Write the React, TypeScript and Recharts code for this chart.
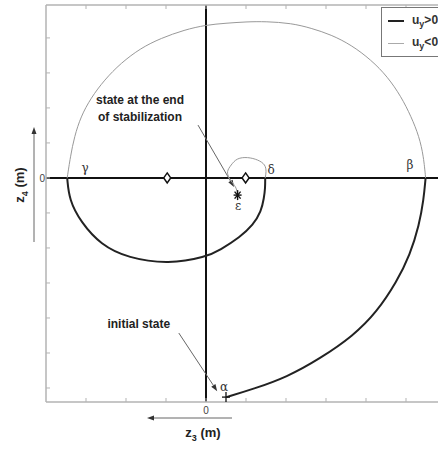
import { ComposedChart, Legend, Line, ReferenceDot, ReferenceLine, Scatter, XAxis, YAxis } from "recharts";

const xTicks = [-3, -2, -1, 0, 1, 2, 3, 4, 5];
const yTicks = [-6, -5, -4, -3, -2, -1, 0, 1, 2, 3, 4];

// u_y > 0 : from the initial state up to beta, then gamma down to delta
const arcAlphaBeta = [
	{ x: 0.51, y: -6.26 }, { x: 1.18, y: -6.03 }, { x: 2.02, y: -5.69 }, { x: 2.85, y: -5.16 },
	{ x: 3.68, y: -4.51 }, { x: 4.27, y: -3.83 }, { x: 4.77, y: -2.96 }, { x: 5.1, y: -2.2 },
	{ x: 5.33, y: -1.34 }, { x: 5.44, y: -0.63 }, { x: 5.49, y: 0 },
];
const arcGammaDelta = [
	{ x: -3.47, y: 0 }, { x: -3.42, y: -0.63 }, { x: -3.13, y: -1.26 }, { x: -2.63, y: -1.91 },
	{ x: -1.95, y: -2.29 }, { x: -0.93, y: -2.46 }, { x: 0, y: -2.26 }, { x: 0.35, y: -2.06 },
	{ x: 0.85, y: -1.69 }, { x: 1.18, y: -1.34 }, { x: 1.38, y: -0.96 }, { x: 1.45, y: -0.57 },
	{ x: 1.48, y: -0.29 }, { x: 1.48, y: 0 },
];

// u_y < 0 : beta over the top to gamma, then the small loop from delta to epsilon
const arcBetaGamma = [
	{ x: 5.49, y: 0 }, { x: 5.44, y: 0.61 }, { x: 5.33, y: 1.18 }, { x: 5.13, y: 1.75 },
	{ x: 4.88, y: 2.32 }, { x: 4.54, y: 2.89 }, { x: 4.13, y: 3.37 }, { x: 3.63, y: 3.8 },
	{ x: 3.13, y: 4.09 }, { x: 2.63, y: 4.28 }, { x: 2.13, y: 4.42 }, { x: 1.5, y: 4.47 },
	{ x: 1.0, y: 4.46 }, { x: 0.5, y: 4.42 }, { x: 0, y: 4.37 }, { x: -0.54, y: 4.23 },
	{ x: -1.13, y: 3.99 }, { x: -1.63, y: 3.71 }, { x: -2.13, y: 3.28 }, { x: -2.54, y: 2.8 },
	{ x: -2.88, y: 2.28 }, { x: -3.13, y: 1.75 }, { x: -3.29, y: 1.18 }, { x: -3.39, y: 0.61 },
	{ x: -3.47, y: 0 },
];
const loopDeltaEpsilon = [
	{ x: 1.48, y: 0 }, { x: 1.5, y: 0.18 }, { x: 1.46, y: 0.37 }, { x: 1.29, y: 0.51 },
	{ x: 1.04, y: 0.58 }, { x: 0.79, y: 0.54 }, { x: 0.63, y: 0.37 }, { x: 0.54, y: 0.18 },
	{ x: 0.58, y: 0 }, { x: 0.67, y: -0.15 }, { x: 0.75, y: -0.29 }, { x: 0.79, y: -0.46 },
];

const equilibria = [{ x: -0.97, y: 0 }, { x: 0.99, y: 0 }];
const initialState = [{ x: 0.5, y: -6.26 }];
const finalState = [{ x: 0.79, y: -0.49 }];

const greekLabels = [
	{ x: -3.02, y: 0.29, text: "γ" },
	{ x: 5.1, y: 0.37, text: "β" },
	{ x: 1.63, y: 0.23, text: "δ" },
	{ x: 0.8, y: -0.8, text: "ε" },
	{ x: 0.45, y: -5.97, text: "α" },
];

const notes = [
	{ x: -1.65, y: 2.23, text: "state at the end" },
	{ x: -1.65, y: 1.74, text: "of stabilization" },
	{ x: -1.68, y: -4.17, text: "initial state" },
];
const pointers = [
	[{ x: -0.2, y: 1.51 }, { x: 0.7, y: -0.26 }],
	[{ x: -0.68, y: -4.43 }, { x: 0.28, y: -6.09 }],
];

const frame = "#b3b3b3";

function Arrow({ x1, y1, x2, y2 }: any) {
	const a = Math.atan2(y2 - y1, x2 - x1);
	const bx = x2 - 7 * Math.cos(a);
	const by = y2 - 7 * Math.sin(a);
	const w = 2.5;
	const head = `${x2},${y2} ${bx - w * Math.sin(a)},${by + w * Math.cos(a)} ${bx + w * Math.sin(a)},${by - w * Math.cos(a)}`;
	return (
		<g>
			<line x1={x1} y1={y1} x2={bx} y2={by} stroke="#666" strokeWidth={1} />
			<polygon points={head} fill="#333" />
		</g>
	);
}

function BottomTick({ x, y, payload }: any) {
	return (
		<g>
			<line x1={x} y1={y} x2={x} y2={y - 4} stroke={frame} />
			{payload.value === 0 && (
				<text x={x} y={y + 12} textAnchor="middle" fontSize={10} fill="#444">0</text>
			)}
		</g>
	);
}

function TopTick({ x, y }: any) {
	return <line x1={x} y1={y} x2={x} y2={y + 4} stroke={frame} />;
}

function LeftTick({ x, y, payload }: any) {
	return (
		<g>
			<line x1={x} y1={y} x2={x + 4} y2={y} stroke={frame} />
			{payload.value === 0 && (
				<text x={x - 1} y={y + 4} textAnchor="end" fontSize={10} fill="#444">0</text>
			)}
		</g>
	);
}

function XTitle() {
	return (
		<g>
			<Arrow x1={232} y1={418} x2={147} y2={418} />
			<text x={203} y={437} textAnchor="middle" fontSize={13} fontWeight={700} fill="#222">
				z<tspan dy={4} fontSize={9}>3</tspan><tspan dy={-4}> (m)</tspan>
			</text>
		</g>
	);
}

function YTitle() {
	return (
		<g>
			<Arrow x1={34} y1={242} x2={34} y2={127} />
			<text x={24} y={185} transform="rotate(-90 24 185)" textAnchor="middle" fontSize={13} fontWeight={700} fill="#222">
				z<tspan dy={4} fontSize={9}>4</tspan><tspan dy={-4}> (m)</tspan>
			</text>
		</g>
	);
}

function Diamond({ cx, cy }: any) {
	return (
		<polygon
			points={`${cx},${cy - 5} ${cx + 3.5},${cy} ${cx},${cy + 5} ${cx - 3.5},${cy}`}
			fill="#fff"
			stroke="#111"
			strokeWidth={1.5}
		/>
	);
}

function Cross({ cx, cy }: any) {
	return (
		<g stroke="#111" strokeWidth={1.3}>
			<line x1={cx - 4} y1={cy} x2={cx + 4} y2={cy} />
			<line x1={cx} y1={cy - 5} x2={cx} y2={cy + 5} />
		</g>
	);
}

function Star({ cx, cy }: any) {
	return (
		<g stroke="#111" strokeWidth={1.4}>
			<line x1={cx - 4} y1={cy} x2={cx + 4} y2={cy} />
			<line x1={cx} y1={cy - 5} x2={cx} y2={cy + 5} />
			<line x1={cx - 3} y1={cy - 3.5} x2={cx + 3} y2={cy + 3.5} />
			<line x1={cx - 3} y1={cy + 3.5} x2={cx + 3} y2={cy - 3.5} />
		</g>
	);
}

function LegendBox() {
	const row = (color: string, width: number, sign: string) => (
		<div style={{ display: "flex", alignItems: "center", height: 22 }}>
			<div style={{ width: 16, height: 0, borderTop: `${width}px solid ${color}`, marginRight: 8 }} />
			<span style={{ fontSize: 12, fontWeight: 700, color: "#333" }}>
				u<sub style={{ fontSize: 9 }}>y</sub>{sign}0
			</span>
		</div>
	);
	return (
		<div style={{ border: "1px solid #777", padding: "2px 6px", background: "#fff", width: 70 }}>
			{row("#222", 2, ">")}
			{row("#aaa", 1, "<")}
		</div>
	);
}

export default function App() {
	return (
		<div
			style={{
				position: "absolute",
				left: 0,
				top: 0,
				width: 438,
				height: 449,
				overflow: "hidden",
				background: "#fff",
				fontFamily: "'Liberation Sans', Arial, sans-serif",
			}}
		>
			<ComposedChart width={448} height={449} margin={{ top: 4, right: 2, left: 45, bottom: 46 }}>
				<XAxis
					dataKey="x"
					type="number"
					domain={[-4, 6]}
					ticks={xTicks}
					height={1}
					tickSize={0}
					tickMargin={0}
					tick={BottomTick}
					axisLine={{ stroke: frame, strokeWidth: 1.5 }}
					label={{ content: XTitle }}
					allowDataOverflow
				/>
				<XAxis
					xAxisId="top"
					orientation="top"
					dataKey="x"
					type="number"
					domain={[-4, 6]}
					ticks={xTicks}
					height={1}
					tickSize={0}
					tickMargin={0}
					tick={TopTick}
					axisLine={{ stroke: frame, strokeWidth: 1.5 }}
					allowDataOverflow
				/>
				<YAxis
					dataKey="y"
					type="number"
					domain={[-6.4, 4.94]}
					ticks={yTicks}
					width={1}
					tickSize={0}
					tickMargin={0}
					tick={LeftTick}
					axisLine={{ stroke: frame, strokeWidth: 1.5 }}
					label={{ content: YTitle }}
					allowDataOverflow
				/>

				<ReferenceLine x={0} stroke="#111" strokeWidth={2} />
				<ReferenceLine y={0} stroke="#111" strokeWidth={2} />

				{pointers.map((seg, i) => (
					<ReferenceLine key={i} segment={seg} shape={Arrow} />
				))}

				<Line data={arcAlphaBeta} dataKey="y" name="u_y>0" type="basis" stroke="#222" strokeWidth={2} dot={false} isAnimationActive={false} />
				<Line data={arcGammaDelta} dataKey="y" type="basis" stroke="#222" strokeWidth={2} dot={false} legendType="none" isAnimationActive={false} />
				<Line data={arcBetaGamma} dataKey="y" name="u_y<0" type="basis" stroke="#999" strokeWidth={1} dot={false} isAnimationActive={false} />
				<Line data={loopDeltaEpsilon} dataKey="y" type="natural" stroke="#999" strokeWidth={1} dot={false} legendType="none" isAnimationActive={false} />

				<Scatter data={equilibria} dataKey="y" shape={Diamond} legendType="none" isAnimationActive={false} />
				<Scatter data={initialState} dataKey="y" shape={Cross} legendType="none" isAnimationActive={false} />
				<Scatter data={finalState} dataKey="y" shape={Star} legendType="none" isAnimationActive={false} />

				{greekLabels.map((g) => (
					<ReferenceDot
						key={g.text}
						x={g.x}
						y={g.y}
						r={0}
						fill="none"
						stroke="none"
						label={{ value: g.text, position: "center", fontSize: 12, fill: "#333", fontFamily: "'DejaVu Serif', serif" }}
					/>
				))}
				{notes.map((n) => (
					<ReferenceDot
						key={n.text}
						x={n.x}
						y={n.y}
						r={0}
						fill="none"
						stroke="none"
						label={{ value: n.text, position: "center", fontSize: 12, fontWeight: 700, fill: "#222" }}
					/>
				))}

				<Legend
					layout="vertical"
					align="center"
					verticalAlign="middle"
					wrapperStyle={{ top: 7, left: 381, width: 90 }}
					content={LegendBox}
				/>
			</ComposedChart>
		</div>
	);
}
